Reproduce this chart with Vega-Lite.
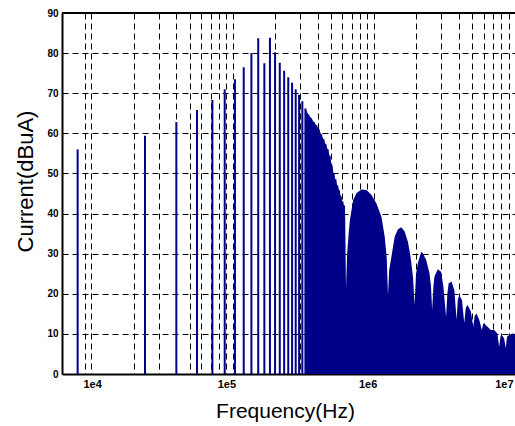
{
  "$schema": "https://vega.github.io/schema/vega-lite/v6.json",
  "width": 453,
  "height": 361,
  "autosize": {"type": "none"},
  "padding": {"left": 62, "top": 13, "right": 0, "bottom": 52},
  "background": "white",
  "config": {
    "view": {"stroke": null},
    "font": "Liberation Sans",
    "axis": {
      "gridColor": "#000000",
      "gridOpacity": 1,
      "gridWidth": 1,
      "gridDash": [6, 4],
      "domainColor": "#000000",
      "domainWidth": 2,
      "ticks": false,
      "labelColor": "#000000",
      "labelFont": "Liberation Sans",
      "labelFontWeight": "bold",
      "titleColor": "#000000",
      "titleFont": "Liberation Sans",
      "titleFontWeight": "normal",
      "titleFontSize": 21
    }
  },
  "datasets": {
    "lines": [
      {"f": 8000, "v": 56.0}, {"f": 24000, "v": 59.4}, {"f": 40000, "v": 62.8}, {"f": 56000, "v": 65.8},
      {"f": 72000, "v": 68.3}, {"f": 88000, "v": 71.0}, {"f": 104000, "v": 73.5}, {"f": 120000, "v": 76.5},
      {"f": 136000, "v": 80.0}, {"f": 152000, "v": 83.7}, {"f": 168000, "v": 77.5}, {"f": 184000, "v": 83.8},
      {"f": 200000, "v": 80.2}, {"f": 216000, "v": 77.6}, {"f": 232000, "v": 75.6}, {"f": 248000, "v": 74.0},
      {"f": 264000, "v": 72.6}, {"f": 280000, "v": 71.0}, {"f": 296000, "v": 69.6}, {"f": 312000, "v": 68.0},
      {"f": 328000, "v": 66.2}, {"f": 344000, "v": 64.7}, {"f": 360000, "v": 63.8}, {"f": 376000, "v": 62.8},
      {"f": 392000, "v": 62.0}, {"f": 408000, "v": 61.0}, {"f": 424000, "v": 59.8}, {"f": 440000, "v": 58.6},
      {"f": 456000, "v": 57.3}, {"f": 472000, "v": 56.0}, {"f": 488000, "v": 54.3}, {"f": 504000, "v": 52.0},
      {"f": 520000, "v": 50.0}, {"f": 536000, "v": 48.5}, {"f": 552000, "v": 47.0}, {"f": 568000, "v": 45.8},
      {"f": 584000, "v": 44.3}, {"f": 600000, "v": 43.0}, {"f": 616000, "v": 42.0}
    ],
    "env": [
      {"f": 328000, "v": 66.2}, {"f": 344000, "v": 64.7}, {"f": 360000, "v": 63.8}, {"f": 376000, "v": 62.8},
      {"f": 392000, "v": 62.0}, {"f": 408000, "v": 61.0}, {"f": 424000, "v": 59.8}, {"f": 440000, "v": 58.6},
      {"f": 456000, "v": 57.3}, {"f": 472000, "v": 56.0}, {"f": 488000, "v": 54.3}, {"f": 504000, "v": 52.0},
      {"f": 520000, "v": 50.0}, {"f": 536000, "v": 48.5}, {"f": 552000, "v": 47.0}, {"f": 568000, "v": 45.8},
      {"f": 584000, "v": 44.3}, {"f": 600000, "v": 43.0}, {"f": 616000, "v": 42.0}, {"f": 626000, "v": 40.0},
      {"f": 636000, "v": 21.4}, {"f": 648000, "v": 30.0}, {"f": 664000, "v": 35.0}, {"f": 677500, "v": 38.4},
      {"f": 714900, "v": 43.4}, {"f": 755300, "v": 45.1}, {"f": 819200, "v": 46.0}, {"f": 888400, "v": 45.9},
      {"f": 963400, "v": 44.6}, {"f": 1044700, "v": 42.5}, {"f": 1133000, "v": 39.2}, {"f": 1195300, "v": 34.2},
      {"f": 1234800, "v": 29.0}, {"f": 1261100, "v": 19.7}, {"f": 1285900, "v": 26.0}, {"f": 1332600, "v": 29.2},
      {"f": 1405900, "v": 34.2}, {"f": 1483100, "v": 36.1}, {"f": 1567000, "v": 36.6}, {"f": 1653300, "v": 35.5},
      {"f": 1744100, "v": 33.0}, {"f": 1822200, "v": 29.2}, {"f": 1897600, "v": 24.0}, {"f": 1944300, "v": 17.2},
      {"f": 1992200, "v": 25.0}, {"f": 2051100, "v": 27.6}, {"f": 2167500, "v": 30.5}, {"f": 2224500, "v": 30.1},
      {"f": 2350600, "v": 28.4}, {"f": 2479700, "v": 25.1}, {"f": 2540700, "v": 22.0}, {"f": 2590600, "v": 16.0},
      {"f": 2645800, "v": 22.0}, {"f": 2689000, "v": 24.3}, {"f": 2836800, "v": 26.1}, {"f": 2997500, "v": 25.5},
      {"f": 3111400, "v": 21.8}, {"f": 3250700, "v": 14.3}, {"f": 3320000, "v": 20.0}, {"f": 3390700, "v": 22.6},
      {"f": 3559800, "v": 23.0}, {"f": 3719200, "v": 20.9}, {"f": 3860400, "v": 13.5}, {"f": 3936300, "v": 18.5},
      {"f": 4033100, "v": 19.7}, {"f": 4213700, "v": 18.4}, {"f": 4373800, "v": 12.7}, {"f": 4481400, "v": 16.5},
      {"f": 4614100, "v": 17.2}, {"f": 4875800, "v": 15.5}, {"f": 5060800, "v": 11.8}, {"f": 5185300, "v": 14.5},
      {"f": 5338800, "v": 15.1}, {"f": 5577800, "v": 13.5}, {"f": 5827300, "v": 11.0}, {"f": 5951500, "v": 12.5},
      {"f": 6048800, "v": 12.6}, {"f": 6381200, "v": 11.8}, {"f": 6742600, "v": 11.0}, {"f": 7114100, "v": 11.0},
      {"f": 7505000, "v": 10.1}, {"f": 7714600, "v": 6.8}, {"f": 7904500, "v": 9.5}, {"f": 8059700, "v": 9.7},
      {"f": 8366500, "v": 8.9}, {"f": 8600400, "v": 6.4}, {"f": 8783600, "v": 9.3}, {"f": 9073500, "v": 9.7},
      {"f": 9571900, "v": 10.1}, {"f": 10000000, "v": 10.0}
    ]
  },
  "layer": [
    {
      "data": {"name": "lines"},
      "mark": {"type": "rule", "color": "#000088", "strokeWidth": 2},
      "encoding": {
        "x": {
          "field": "f",
          "type": "quantitative",
          "scale": {"type": "log", "domain": [6200, 10000000], "nice": false},
          "axis": {
            "values": [9000, 10000, 20000, 30000, 40000, 50000, 60000, 70000, 80000, 90000, 100000, 200000, 300000, 400000, 500000, 600000, 700000, 800000, 900000, 1000000, 2000000, 3000000, 4000000, 5000000, 6000000, 7000000, 8000000, 9000000, 10000000],
            "labelExpr": "datum.value == 10000 ? '1e4' : datum.value == 100000 ? '1e5' : datum.value == 1000000 ? '1e6' : datum.value == 10000000 ? '1e7' : ''",
            "labelAlign": "right",
            "labelBaseline": "top",
            "labelFontSize": 11,
            "labelPadding": 4,
            "labelFlush": false,
            "labelOverlap": false,
            "labelOffset": {"condition": [{"test": "datum.value == 10000", "value": 10}, {"test": "datum.value >= 9000000", "value": -2}], "value": 3},
            "title": "Frequency(Hz)",
            "titleBaseline": "alphabetic",
            "titleY": 43,
            "titleX": 223
          }
        },
        "y": {
          "field": "v",
          "type": "quantitative",
          "scale": {"domain": [0, 90], "nice": false},
          "axis": {
            "values": [0, 10, 20, 30, 40, 50, 60, 70, 80, 90],
            "labelFontSize": 10,
            "labelPadding": 4,
            "title": "Current(dBuA)",
            "titleBaseline": "alphabetic",
            "titleX": -30,
            "titleY": 168,
            "titleFontSize": 22
          }
        },
        "y2": {"datum": 0}
      }
    },
    {
      "data": {"name": "env"},
      "mark": {"type": "area", "color": "#000088", "interpolate": "linear"},
      "encoding": {
        "x": {"field": "f", "type": "quantitative"},
        "y": {"field": "v", "type": "quantitative"}
      }
    },
    {
      "data": {"values": [{}]},
      "mark": {"type": "rule", "color": "#000000", "strokeWidth": 2},
      "encoding": {"y": {"datum": 90}}
    }
  ]
}
